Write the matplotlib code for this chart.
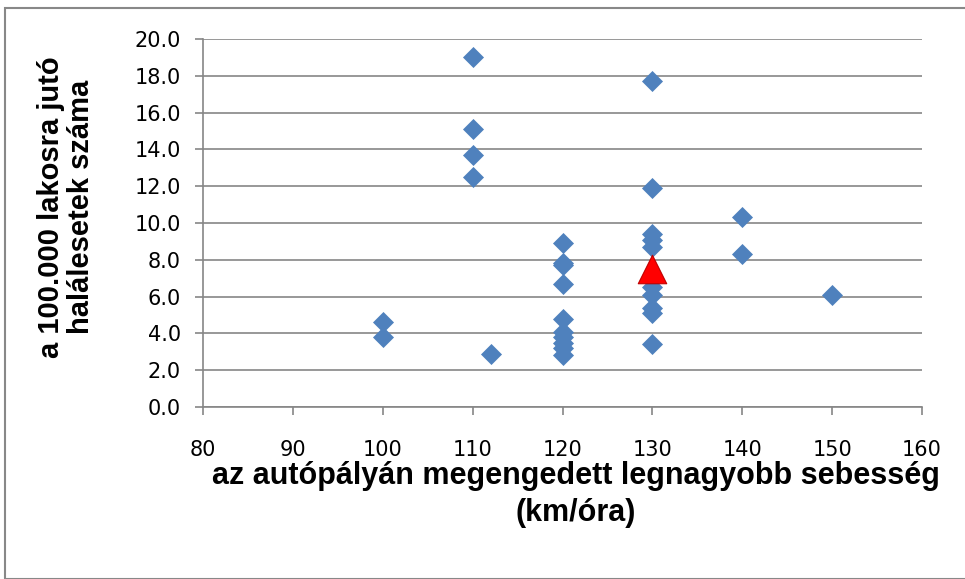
import matplotlib
matplotlib.use("Agg")
import matplotlib.pyplot as plt
from matplotlib.patches import Rectangle

plt.rcParams['font.family'] = ['Liberation Sans', 'DejaVu Sans']

speed = [100, 100, 112, 110, 110, 110, 110,
         120, 120, 120, 120, 120, 120, 120, 120, 120, 120,
         130, 130, 130, 130, 130, 130, 130, 130, 130, 130,
         140, 140, 150]
deaths = [4.6, 3.8, 2.9, 19.0, 15.1, 13.7, 12.5,
          8.9, 7.8, 7.7, 6.7, 4.8, 4.1, 3.8, 3.5, 3.2, 2.8,
          17.7, 11.9, 9.4, 9.1, 8.7, 6.5, 6.1, 5.4, 5.1, 3.4,
          10.3, 8.3, 6.1]
hu_speed = [130]
hu_deaths = [7.5]

xticks = [80, 90, 100, 110, 120, 130, 140, 150, 160]
yticks = [0, 2, 4, 6, 8, 10, 12, 14, 16, 18, 20]

fig = plt.figure(figsize=(9.65, 5.79), dpi=100)
fig.patches.append(Rectangle((5/965, 0), 1.0, 1 - 8/579, transform=fig.transFigure,
                             fill=False, edgecolor='#888888', linewidth=1.5))
ax = fig.add_axes([203/965, 1 - 407/579, (922-203)/965, (407-39)/579])

ax.scatter(speed, deaths, marker='D', s=115, color='#4F81BD', zorder=3, linewidths=0)
ax.scatter(hu_speed, hu_deaths, marker='^', s=420, color='#FF0000', edgecolor='#C00000',
           linewidths=0.8, zorder=4)

ax.set_xlim(80, 160)
ax.set_ylim(0, 20)
ax.set_xticks(xticks)
ax.set_yticks(yticks)
ax.set_yticklabels([f"{v:.1f}" for v in yticks])
ax.grid(axis='y', color='#868686', linewidth=1.2)
ax.set_axisbelow(True)
for s in ['top', 'right']:
    ax.spines[s].set_visible(False)
for s in ['left', 'bottom']:
    ax.spines[s].set_color('#868686')
    ax.spines[s].set_linewidth(1.2)
ax.tick_params(axis='both', colors='#868686', labelcolor='black', length=6, width=1.2)
ax.tick_params(axis='y', pad=10)
ax.tick_params(axis='x', pad=18)
for lab in ax.get_xticklabels() + ax.get_yticklabels():
    lab.set_fontfamily('DejaVu Sans')
    lab.set_fontsize(15)

ax.set_xlabel("az autópályán megengedett legnagyobb sebesség\n(km/óra)", fontsize=22,
              fontweight='bold', linespacing=1.32)
ax.set_ylabel("a 100.000 lakosra jutó\nhalálesetek száma", fontsize=21,
              fontweight='bold', linespacing=1.1)
ax.xaxis.set_label_coords((576-203)/719, (407-461)/368)
ax.yaxis.set_label_coords((95-203)/719, (407-207)/368)

fig.savefig("out.png", dpi=100, facecolor='white')
